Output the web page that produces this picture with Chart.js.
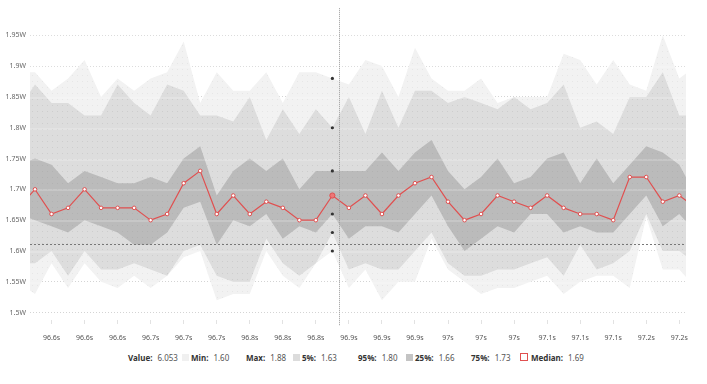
<!DOCTYPE html>
<html>
<head>
<meta charset="utf-8">
<script src="https://cdn.jsdelivr.net/npm/chart.js@4/dist/chart.umd.min.js"></script>
<style>
  html,body{margin:0;padding:0;background:#fff;}
  body{width:707px;height:384px;position:relative;overflow:hidden;font-family:"Noto Sans","Open Sans",sans-serif;}
  #wrap{position:absolute;left:0;top:0;width:707px;height:346px;}
  #legend{position:absolute;left:0;top:350px;width:707px;height:16px;font-size:8px;}
  .item{position:absolute;top:0;display:flex;align-items:center;height:14px;white-space:nowrap;}
  .item b{color:#333;font-weight:700;}
  .item span.v{color:#555;margin-left:5px;}
  .sw{width:7px;height:7px;margin-right:2px;}
  .med{width:6px;height:6px;border:1.5px solid #e05050;background:#fff;margin-right:3px;}
</style>
</head>
<body>
<div id="wrap"><canvas id="c"></canvas></div>
<div id="legend"></div>
<script>
// --- Data (index -1 .. 40, the outer two are clipped by the axis) ---
const xIndex = [-1,0,1,2,3,4,5,6,7,8,9,10,11,12,13,14,15,16,17,18,19,20,21,22,23,24,25,26,27,28,29,30,31,32,33,34,35,36,37,38,39,40];
const median = [1.67,1.70,1.66,1.67,1.70,1.67,1.67,1.67,1.65,1.66,1.71,1.73,1.66,1.69,1.66,1.68,1.67,1.65,1.65,1.69,1.67,1.69,1.66,1.69,1.71,1.72,1.68,1.65,1.66,1.69,1.68,1.67,1.69,1.67,1.66,1.66,1.65,1.72,1.72,1.68,1.69,1.67];
const p75 = [1.74,1.75,1.74,1.71,1.73,1.72,1.71,1.71,1.72,1.71,1.75,1.77,1.69,1.73,1.75,1.73,1.75,1.70,1.73,1.73,1.73,1.73,1.76,1.73,1.76,1.78,1.73,1.70,1.72,1.75,1.71,1.72,1.75,1.76,1.71,1.75,1.71,1.74,1.77,1.76,1.74,1.69];
const p25 = [1.66,1.65,1.64,1.63,1.65,1.64,1.63,1.61,1.61,1.63,1.67,1.68,1.61,1.65,1.64,1.66,1.62,1.64,1.63,1.66,1.62,1.64,1.64,1.63,1.66,1.69,1.64,1.60,1.62,1.64,1.63,1.66,1.66,1.63,1.64,1.63,1.63,1.66,1.69,1.64,1.66,1.63];
const p95 = [1.83,1.87,1.84,1.84,1.82,1.82,1.87,1.84,1.82,1.87,1.86,1.82,1.82,1.81,1.85,1.78,1.83,1.79,1.83,1.80,1.85,1.79,1.86,1.80,1.86,1.86,1.84,1.85,1.84,1.83,1.85,1.83,1.84,1.87,1.80,1.81,1.79,1.85,1.85,1.89,1.82,1.82];
const p5 = [1.58,1.58,1.60,1.56,1.60,1.57,1.57,1.58,1.57,1.56,1.60,1.61,1.56,1.55,1.55,1.62,1.58,1.56,1.58,1.63,1.57,1.58,1.57,1.57,1.60,1.63,1.58,1.56,1.56,1.57,1.57,1.58,1.59,1.56,1.61,1.57,1.58,1.60,1.66,1.60,1.60,1.58];
const minV = [1.55,1.53,1.58,1.54,1.58,1.55,1.54,1.56,1.54,1.56,1.59,1.60,1.52,1.53,1.53,1.60,1.56,1.54,1.58,1.60,1.54,1.57,1.52,1.55,1.55,1.62,1.57,1.55,1.53,1.54,1.54,1.55,1.56,1.53,1.55,1.56,1.56,1.54,1.655,1.57,1.57,1.54];
const maxV = [1.89,1.89,1.86,1.88,1.91,1.85,1.88,1.86,1.88,1.89,1.94,1.84,1.89,1.86,1.86,1.89,1.84,1.89,1.89,1.88,1.87,1.91,1.90,1.85,1.93,1.88,1.86,1.86,1.88,1.84,1.85,1.85,1.85,1.92,1.91,1.87,1.91,1.87,1.86,1.95,1.88,1.90];
const xTickLabels = ['96.6s','96.6s','96.6s','96.7s','96.7s','96.7s','96.8s','96.8s','96.8s','96.9s','96.9s','96.9s','97s','97s','97s','97.1s','97.1s','97.1s','97.2s','97.2s'];
const yTicks = [1.5,1.55,1.6,1.65,1.7,1.75,1.8,1.85,1.9,1.95];
const hoverIndex = 18;          // hovered sample
const cursor = [18.4, 1.612];   // crosshair position in data units
const hoverValue = '6.053';

const pts = arr => arr.map((v,i)=>({x:xIndex[i], y:v}));
const hovered = i => i === hoverIndex + 1;

function dots(base, dot){
  const c=document.createElement('canvas');
  c.width=5;c.height=6;
  const g=c.getContext('2d');
  g.fillStyle=base;g.fillRect(0,0,5,6);
  g.fillStyle=dot;g.fillRect(2,3,1,1);
  return g.createPattern(c,'repeat');
}
const lightFill = dots('#f2f2f2','#e6e6e6');
const midFill = dots('#dddddd','#cdcdcd');
const darkFill = dots('#bbbbbb','#b2b2b2');

function band(data, fill, bg){
  return {data:pts(data), fill:fill, backgroundColor:bg, borderWidth:0, tension:0,
    pointRadius:c=>hovered(c.dataIndex)?1.6:0, pointBackgroundColor:'#333', pointBorderWidth:0};
}

// light lines over the bands where the grid runs
const gridOverlay = {
  id:'gridOverlay',
  beforeDatasetsDraw(chart){
    const {ctx, chartArea:a, scales:{y}} = chart;
    ctx.save();
    ctx.strokeStyle='rgba(255,255,255,0.25)';
    ctx.lineWidth=1.5;
    yTicks.forEach(v=>{
      const py=Math.round(y.getPixelForValue(v))+1;
      ctx.beginPath();ctx.moveTo(a.left,py);ctx.lineTo(a.right,py);ctx.stroke();
    });
    ctx.restore();
  }
};

const crosshair = {
  id:'crosshair',
  afterDatasetsDraw(chart){
    const {ctx, chartArea:a, scales:{x,y}} = chart;
    const px=Math.round(x.getPixelForValue(cursor[0]))+0.5;
    const py=Math.round(y.getPixelForValue(cursor[1]))+0.5;
    ctx.save();
    ctx.lineWidth=1;
    ctx.strokeStyle='#999';ctx.setLineDash([1,1]);
    ctx.beginPath();ctx.moveTo(px,a.top);ctx.lineTo(px,a.bottom+6);ctx.stroke();
    ctx.strokeStyle='#777';ctx.setLineDash([2,2]);
    ctx.beginPath();ctx.moveTo(a.left,py);ctx.lineTo(a.right,py);ctx.stroke();
    ctx.restore();
  }
};

new Chart(document.getElementById('c').getContext('2d'),{
  type:'line',
  data:{datasets:[
    {data:pts(median), borderColor:'#e05050', borderWidth:1.2, fill:false, tension:0,
      pointRadius:c=>hovered(c.dataIndex)?2.6:1.8,
      pointBackgroundColor:c=>hovered(c.dataIndex)?'#e77':'#fff',
      pointBorderColor:'#e05050', pointBorderWidth:1},
    band(p75,'+1',darkFill),
    band(p25,false,'transparent'),
    band(p95,'+1',midFill),
    band(p5,false,'transparent'),
    band(maxV,'+1',lightFill),
    band(minV,false,'transparent')
  ]},
  options:{
    responsive:true, maintainAspectRatio:false, animation:false,
    layout:{padding:{left:0,right:21,top:8,bottom:0}},
    plugins:{legend:{display:false},tooltip:{enabled:false},filler:{drawTime:'beforeDatasetsDraw'}},
    scales:{
      x:{type:'linear', min:-0.303, max:39.406,
        afterFit:s=>{s.height=26;},
        afterBuildTicks:s=>{s.ticks=xTickLabels.map((l,i)=>({value:2*i+1}));},
        ticks:{padding:10, maxRotation:0, autoSkip:false, color:'#555', font:{size:7, family:'Noto Sans'},
          callback:(v)=>xTickLabels[(v-1)/2]},
        grid:{drawOnChartArea:false, drawTicks:true, tickLength:4, color:'#e2e2e2'},
        border:{display:false}},
      y:{min:1.488, max:1.994,
        afterFit:s=>{s.width=30;},
        afterBuildTicks:s=>{s.ticks=yTicks.map(v=>({value:v}));},
        ticks:{padding:4, color:'#666', font:{size:7, family:'Noto Sans'}, callback:v=>v+'W'},
        grid:{color:'#d4d4d4', drawTicks:false},
        border:{display:false, dash:[1,2]}}
    }
  },
  plugins:[gridOverlay, crosshair]
});

// --- Legend row ---
const h = hoverIndex + 1;
const legendItems = [
  {label:'Value:', value:hoverValue, sw:null},
  {label:'Min:', value:minV[h].toFixed(2), sw:'#f0f0f0'},
  {label:'Max:', value:maxV[h].toFixed(2), sw:null},
  {label:'5%:', value:p5[h].toFixed(2), sw:'#dcdcdc'},
  {label:'95%:', value:p95[h].toFixed(2), sw:null},
  {label:'25%:', value:p25[h].toFixed(2), sw:'#c4c4c4'},
  {label:'75%:', value:p75[h].toFixed(2), sw:null},
  {label:'Median:', value:median[h].toFixed(2), sw:'median'}
];
const legendLeft = [128,182,246,293,358,406,471,520];
const lg = document.getElementById('legend');
legendItems.forEach((it,i)=>{
  const d=document.createElement('div');
  d.className='item';
  d.style.left=legendLeft[i]+'px';
  let sw='';
  if(it.sw==='median') sw='<span class="med"></span>';
  else if(it.sw) sw=`<span class="sw" style="background:${it.sw}"></span>`;
  d.innerHTML=`${sw}<b>${it.label}</b><span class="v">${it.value}</span>`;
  lg.appendChild(d);
});
</script>
</body>
</html>
